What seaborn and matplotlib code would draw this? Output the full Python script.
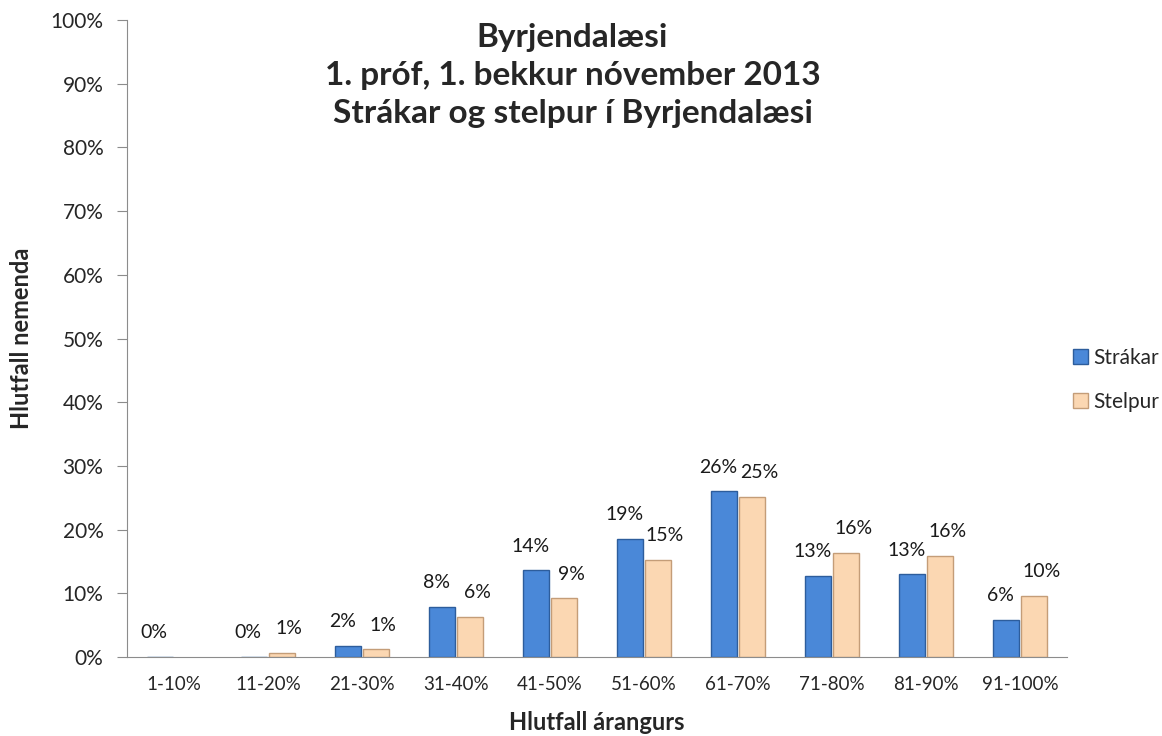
import numpy as np
import pandas as pd
import seaborn as sns
import matplotlib.pyplot as plt

sns.set_style('white')
plt.rcParams['font.family'] = ['Lato', 'DejaVu Sans']

# Gögn
flokkar = ['1-10%', '11-20%', '21-30%', '31-40%', '41-50%',
           '51-60%', '61-70%', '71-80%', '81-90%', '91-100%']
strakar = [0.0, 0.0, 1.8, 7.9, 13.6, 18.6, 26.0, 12.7, 13.0, 5.8]
stelpur = [np.nan, 0.7, 1.2, 6.3, 9.2, 15.3, 25.2, 16.4, 15.9, 9.6]
hopar = ['Strákar', 'Stelpur']
litir = ['#4a88d8', '#fbd7b2']
brunir = ['#2d5d9c', '#c49d78']

df = pd.DataFrame({
    'Flokkur': flokkar * 2,
    'Hópur': [hopar[0]] * len(flokkar) + [hopar[1]] * len(flokkar),
    'Hlutfall': strakar + stelpur,
})

fig = plt.figure(figsize=(11.62, 7.36), dpi=100)
ax = fig.add_axes([0.1093, 0.1073, 0.809, 0.8655])

sns.barplot(data=df, x='Flokkur', y='Hlutfall', hue='Hópur', order=flokkar,
            hue_order=hopar, palette=litir, width=0.6, gap=0.07,
            linewidth=1, saturation=1, ax=ax)

# gildismerki ofan við súlur
for cont, brun, dx in zip(ax.containers, brunir, [-4, 5]):
    for b in cont:
        b.set_edgecolor(brun)
        h = b.get_height()
        if np.isnan(h):
            continue
        ax.annotate(f'{h:.0f}%', (b.get_x() + b.get_width() / 2, h + 3.8),
                    xytext=(dx, 0), textcoords='offset points',
                    ha='center', va='center', fontsize=14, color='#1a1a1a')

ax.set_ylim(0, 100)
ax.set_xlim(-0.5, 9.5)
ax.set_yticks(range(0, 101, 10))
ax.set_yticklabels([f'{v}%' for v in range(0, 101, 10)], fontsize=15)
ax.tick_params(axis='x', labelsize=13.5, length=0, pad=14)
ax.set_xticks(np.arange(-0.5, 10, 1), minor=True)
ax.tick_params(axis='x', which='minor', length=6, color='#8c8c8c', direction='out')
ax.tick_params(axis='y', length=7, color='#8c8c8c', direction='out', left=True, pad=10)

for s in ['top', 'right']:
    ax.spines[s].set_visible(False)
for s in ['left', 'bottom']:
    ax.spines[s].set_color('#8c8c8c')

ax.set_xlabel('Hlutfall árangurs', fontsize=17, fontweight='bold')
ax.set_ylabel('Hlutfall nemenda', fontsize=17, fontweight='bold')
ax.xaxis.set_label_coords(0.5, -0.084)
ax.yaxis.set_label_coords(-0.1, 0.5)

fig.text(0.4927, 0.897, 'Byrjendalæsi\n1. próf, 1. bekkur nóvember 2013\nStrákar og stelpur í Byrjendalæsi',
         ha='center', va='center', fontsize=24, fontweight='bold', linespacing=1.38)

ax.legend_.remove()
handles = [plt.Rectangle((0, 0), 1, 1, facecolor=c, edgecolor=e) for c, e in zip(litir, brunir)]
fig.legend(handles, hopar, loc='center left', bbox_to_anchor=(0.907, 0.484),
           frameon=False, fontsize=15, handlelength=0.75, handleheight=0.75,
           handletextpad=0.25, labelspacing=1.15)

fig.savefig('out.png', dpi=100)
